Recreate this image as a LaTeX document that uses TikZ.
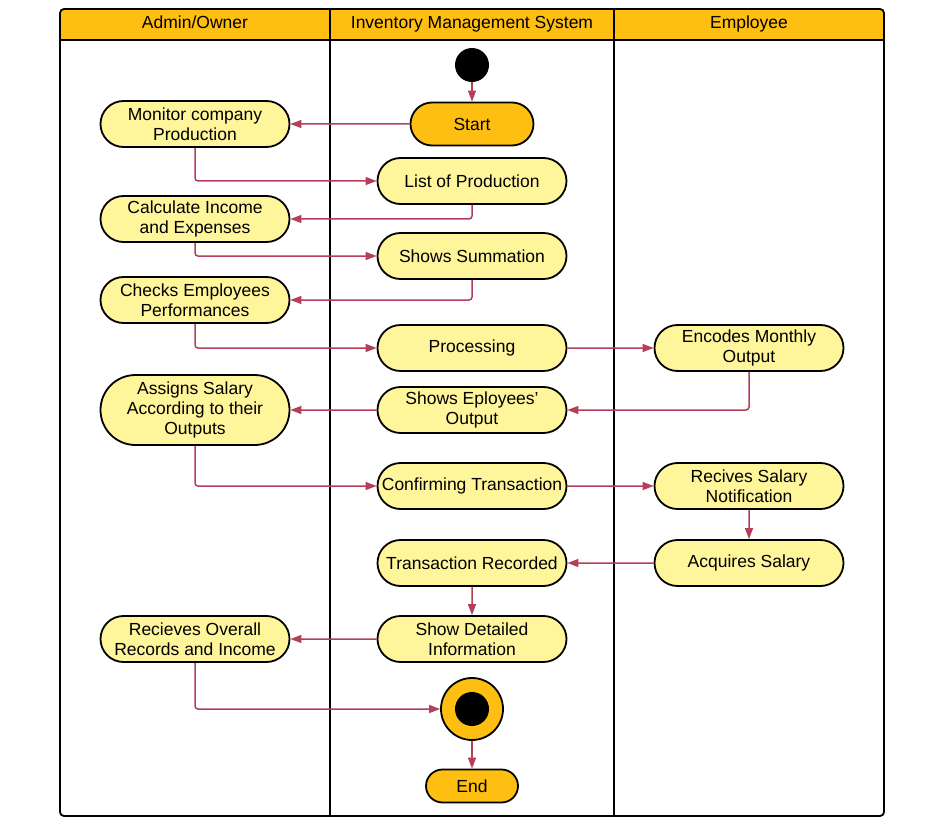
\documentclass[tikz,border=0pt]{standalone}
\usepackage{fontspec}
\setmainfont{Liberation Sans}
\usetikzlibrary{arrows.meta,shapes.misc}
\definecolor{laneorange}{RGB}{254,190,18}
\definecolor{actyellow}{RGB}{255,245,155}
\definecolor{flowred}{RGB}{181,62,90}
\tikzset{
  act/.style={rounded rectangle, draw=black, line width=1.8pt, fill=actyellow,
    minimum width=193pt, minimum height=46pt, inner sep=2pt, align=center,
    font=\fontsize{17.5}{20}\selectfont},
  term/.style={act, fill=laneorange},
  flow/.style={draw=flowred, line width=1.5pt, rounded corners=3pt,
    -{Triangle[length=11pt,width=8pt]}},
  lanehead/.style={font=\fontsize{17.5}{20}\selectfont, text height=12.5pt, text depth=3.5pt},
}

\begin{document}
\begin{tikzpicture}[x=1pt,y=-1pt]
			%%%%% FRAME %%%%%
			\useasboundingbox (0,0) rectangle (946,824);
			\fill[laneorange, rounded corners=4pt] (60,9) rectangle (884,40);
			\draw[line width=1.8pt, rounded corners=4pt] (60,9) rectangle (884,816);
			\draw[line width=1.8pt] (60,40) -- (884,40);
			\draw[line width=1.8pt] (330,9) -- (330,816);
			\draw[line width=1.8pt] (614,9) -- (614,816);
			
			\node[lanehead] (hadm) at (195,24) {Admin/Owner};
			\node[lanehead] (hims) at (472,24) {Inventory Management System};
			\node[lanehead] (hemp) at (749,24) {Employee};
			
			%%%%% NODES %%%%%
			\node[circle, fill=black, minimum size=34pt, inner sep=0pt] (init) at (472,65) {};
			\node[term, minimum width=127pt, minimum height=43pt] (start) at (472,124) {Start};
			
			\node[act] (mon) at (195,124) {Monitor company\\Production};
			\node[act] (lop) at (472,181) {List of Production};
			\node[act] (calc) at (195,219) {Calculate Income\\and Expenses};
			\node[act] (summ) at (472,256) {Shows Summation};
			\node[act] (chk) at (195,300) {Checks Employees\\Performances};
			\node[act] (proc) at (472,348) {Processing};
			\node[act] (enc) at (749,348) {Encodes Monthly\\Output};
			\node[act] (shw) at (472,410) {Shows Eployees'\\Output};
			\node[act, minimum height=70pt] (asg) at (195,410) {Assigns Salary\\According to their\\Outputs};
			\node[act] (conf) at (472,486) {Confirming Transaction};
			\node[act] (rcv) at (749,486) {Recives Salary\\Notification};
			\node[act] (acq) at (749,563) {Acquires Salary};
			\node[act] (trec) at (472,563) {Transaction Recorded};
			\node[act] (det) at (472,639) {Show Detailed\\Information};
			\node[act] (ovr) at (195,639) {Recieves Overall\\Records and Income};
			
			\node[circle, draw=black, line width=1.8pt, fill=laneorange, minimum size=62pt, inner sep=0pt] (fin) at (472,709) {};
			\node[circle, fill=black, minimum size=34pt, inner sep=0pt] (findot) at (fin.center) {};
			\node[term, minimum width=96pt, minimum height=33pt] (end) at (472,786) {End};
			
			%%%%% FLOWS %%%%%
			\draw[flow] (init) -- (start);
			\draw[flow] (start) -- (mon);
			\draw[flow] (mon.south) |- (lop.west);
			\draw[flow] (lop.south) |- (calc.east);
			\draw[flow] (calc.south) |- (summ.west);
			\draw[flow] (summ.south) |- (chk.east);
			\draw[flow] (chk.south) |- (proc.west);
			\draw[flow] (proc) -- (enc);
			\draw[flow] (enc.south) |- (shw.east);
			\draw[flow] (shw) -- (asg);
			\draw[flow] (asg.south) |- (conf.west);
			\draw[flow] (conf) -- (rcv);
			\draw[flow] (rcv) -- (acq);
			\draw[flow] (acq) -- (trec);
			\draw[flow] (trec) -- (det);
			\draw[flow] (det) -- (ovr);
			\draw[flow] (ovr.south) |- (fin.west);
			\draw[flow] (fin) -- (end);
			
			%%%%% END %%%%%
\end{tikzpicture}
\end{document}
